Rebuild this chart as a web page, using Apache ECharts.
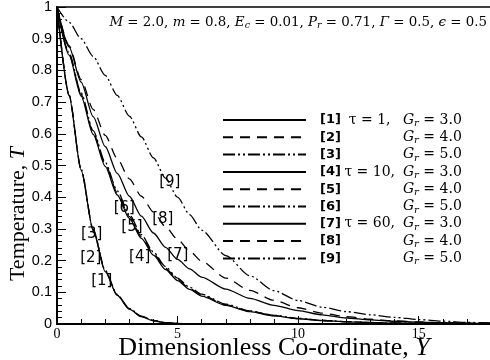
<!DOCTYPE html>
<html><head><meta charset="utf-8">
<script src="https://cdn.jsdelivr.net/npm/echarts@6/dist/echarts.min.js"></script>
<style>html,body{margin:0;padding:0;background:#fff}#c{width:490px;height:360px}</style>
</head><body><div id="c"></div>
<script>
// Y coordinate samples
const xs = [0, 0.5, 1, 1.5, 2, 2.5, 3, 3.5, 4, 4.5, 5, 5.5, 6, 7, 8, 9, 10, 11, 12, 13, 14, 15, 16, 17, 18];
// Temperature T for each curve
const t1 = [1, 0.72, 0.485, 0.295, 0.165, 0.090, 0.047, 0.023, 0.010, 0.004, 0.0015, 0.0005, 0, 0, 0, 0, 0, 0, 0, 0, 0, 0, 0, 0, 0];
const t2 = [1, 0.722, 0.487, 0.297, 0.167, 0.091, 0.048, 0.024, 0.011, 0.004, 0.0015, 0.0005, 0, 0, 0, 0, 0, 0, 0, 0, 0, 0, 0, 0, 0];
const t3 = [1, 0.724, 0.489, 0.299, 0.169, 0.093, 0.049, 0.025, 0.011, 0.004, 0.0015, 0.0005, 0, 0, 0, 0, 0, 0, 0, 0, 0, 0, 0, 0, 0];
const t4 = [1, 0.848, 0.719, 0.598, 0.497, 0.407, 0.333, 0.270, 0.217, 0.172, 0.137, 0.109, 0.088, 0.0585, 0.039, 0.0255, 0.0166, 0.0107, 0.0069, 0.0044, 0.0028, 0.0018, 0.0011, 0.0007, 0.0005];
const t5 = [1, 0.851, 0.724, 0.604, 0.504, 0.414, 0.339, 0.276, 0.222, 0.176, 0.141, 0.112, 0.091, 0.0605, 0.040, 0.0265, 0.0172, 0.0111, 0.0072, 0.0046, 0.0029, 0.0019, 0.0012, 0.0008, 0.0005];
const t6 = [1, 0.855, 0.729, 0.610, 0.510, 0.420, 0.345, 0.282, 0.227, 0.181, 0.145, 0.116, 0.094, 0.0625, 0.0415, 0.0275, 0.0178, 0.0115, 0.0075, 0.0048, 0.003, 0.002, 0.0013, 0.0008, 0.0005];
const t7 = [1, 0.874, 0.763, 0.654, 0.560, 0.475, 0.403, 0.340, 0.287, 0.242, 0.204, 0.174, 0.148, 0.110, 0.081, 0.059, 0.042, 0.029, 0.019, 0.013, 0.0087, 0.0058, 0.0039, 0.0026, 0.0017];
const t8 = [1, 0.878, 0.771, 0.677, 0.595, 0.522, 0.458, 0.403, 0.353, 0.307, 0.267, 0.230, 0.198, 0.145, 0.106, 0.0745, 0.0513, 0.0344, 0.023, 0.015, 0.010, 0.0065, 0.004, 0.0025, 0.0015];
const t9 = [1, 0.952, 0.900, 0.844, 0.784, 0.721, 0.656, 0.590, 0.524, 0.460, 0.400, 0.345, 0.296, 0.216, 0.152, 0.105, 0.074, 0.053, 0.039, 0.029, 0.021, 0.014, 0.009, 0.005, 0.003];
const seriesNames = ['[1]', '[2]', '[3]', '[4]', '[5]', '[6]', '[7]', '[8]', '[9]'];
const tauText = ['τ = 1, ', '', '', 'τ = 10, ', '', '', 'τ = 60, ', '', ''];
const grText = ['3.0', '4.0', '5.0', '3.0', '4.0', '5.0', '3.0', '4.0', '5.0'];
// curve annotation labels (in data coordinates)
const labelX = [1.86, 1.40, 1.44, 3.43, 3.11, 2.79, 5.01, 4.39, 4.68];
const labelT = [0.136, 0.209, 0.283, 0.212, 0.307, 0.365, 0.218, 0.331, 0.449];
const xTicks = [0, 5, 10, 15];
const yTicks = [0, 0.1, 0.2, 0.3, 0.4, 0.5, 0.6, 0.7, 0.8, 0.9, 1];

const curves = [t1, t2, t3, t4, t5, t6, t7, t8, t9];
const dashSolid = 'solid', dashDashed = [10, 7], dashDot = [12, 3, 2, 3, 2, 3];
const styles = [dashSolid, dashDashed, dashDot, dashSolid, dashDashed, dashDot, dashSolid, dashDashed, dashDot];

const chart = echarts.init(document.getElementById('c'), null, {renderer: 'canvas'});
const series = curves.map((c, i) => ({
  name: seriesNames[i],
  type: 'line',
  data: xs.map((x, j) => [x, c[j]]),
  smooth: 0.25,
  smoothMonotone: 'x',
  symbol: 'none',
  lineStyle: {color: '#000', width: 1.3, type: styles[i]},
  itemStyle: {color: '#000'},
  z: 3
}));

const legendRich = {
  b: {fontFamily: 'DejaVu Sans', fontWeight: 'bold', fontSize: 13, color: '#000', padding: [0, 0, 0, 9]},
  t: {fontFamily: 'DejaVu Serif', fontSize: 14, color: '#000', width: 62, align: 'right'},
  g: {fontFamily: 'DejaVu Serif', fontStyle: 'italic', fontSize: 14, color: '#000'},
  s: {fontFamily: 'DejaVu Serif', fontStyle: 'italic', fontSize: 10, color: '#000', padding: [7, 0, 0, 0]},
  e: {fontFamily: 'DejaVu Serif', fontSize: 14, color: '#000'}
};

const yName = {
  type: 'text', x: 18, y: 214, rotation: Math.PI / 2,
  style: {
    text: 'Temperature, {i|T}', fontFamily: 'Liberation Serif', fontSize: 22, fill: '#000',
    align: 'center', verticalAlign: 'middle',
    rich: {i: {fontFamily: 'Liberation Serif', fontStyle: 'italic', fontSize: 22, fill: '#000'}}
  }
};
const xName = {
  type: 'text', x: 274, y: 348,
  style: {
    text: 'Dimensionless Co-ordinate, {i|Y}', fontFamily: 'Liberation Serif', fontSize: 26, fill: '#000',
    align: 'center', verticalAlign: 'middle',
    rich: {i: {fontFamily: 'Liberation Serif', fontStyle: 'italic', fontSize: 26, fill: '#000'}}
  }
};

chart.setOption({
  animation: false,
  backgroundColor: '#fff',
  grid: {left: 57, right: -1, top: 7, bottom: 36, show: true, borderColor: '#000', borderWidth: 1.5,
         containLabel: false, outerBoundsMode: 'none'},
  title: {
    text: '{i|M} = 2.0, {i|m} = 0.8, {i|E}{s|c} = 0.01, {i|P}{s|r} = 0.71, {i|Γ} = 0.5, {i|ϵ} = 0.5',
    right: -2, top: 10,
    textStyle: {
      fontFamily: 'DejaVu Serif', fontSize: 13.4, fontWeight: 'normal', color: '#000',
      rich: {
        i: {fontFamily: 'DejaVu Serif', fontStyle: 'italic', fontSize: 13.4, color: '#000'},
        s: {fontFamily: 'DejaVu Serif', fontStyle: 'italic', fontSize: 9.5, color: '#000', padding: [6, 0, 0, 0]}
      }
    }
  },
  legend: {
    data: seriesNames,
    orient: 'vertical',
    left: 222, top: 113,
    itemWidth: 83, itemHeight: 17, itemGap: 1.8,
    padding: 0,
    itemStyle: {opacity: 0},
    formatter: name => {
      const i = seriesNames.indexOf(name);
      return '{b|' + name + '}{t|' + tauText[i] + '}{g|G}{s|r}{e| = ' + grText[i] + '}';
    },
    textStyle: {rich: legendRich, color: '#000'}
  },
  xAxis: {
    type: 'value', min: 0, max: 18, interval: 5,
    axisLine: {lineStyle: {color: '#000', width: 2}},
    axisTick: {inside: true, length: 8, lineStyle: {color: '#000', width: 1}},
    minorTick: {show: true, splitNumber: 5, length: 5, lineStyle: {color: '#000', width: 1}},
    splitLine: {show: false},
    axisLabel: {margin: 3, fontFamily: 'Liberation Serif', fontSize: 14, color: '#000', showMaxLabel: false,
      formatter: v => xTicks.includes(v) ? String(v) : ''}
  },
  yAxis: {
    type: 'value', min: 0, max: 1, interval: 0.1,
    axisLine: {lineStyle: {color: '#000', width: 2}},
    axisTick: {inside: true, length: 9, lineStyle: {color: '#000', width: 1}},
    minorTick: {show: true, splitNumber: 5, length: 5, lineStyle: {color: '#000', width: 1}},
    splitLine: {show: false},
    axisLabel: {margin: 5, fontFamily: 'Liberation Sans', fontSize: 14.5, color: '#000',
      formatter: v => {
        const t = yTicks.find(y => Math.abs(y - v) < 1e-6);
        if (t === undefined) return '';
        return (t === 0 || t === 1) ? String(t) : t.toFixed(1);
      }}
  },
  graphic: [yName, xName],
  series: series
});

// curve annotations placed through the axes' scales
const annot = labelX.map((x, i) => {
  const p = chart.convertToPixel({gridIndex: 0}, [x, labelT[i]]);
  return {
    type: 'text', x: p[0], y: p[1], z: 10,
    style: {text: seriesNames[i], fontFamily: 'DejaVu Sans', fontSize: 15, fill: '#000',
            align: 'center', verticalAlign: 'middle'}
  };
});
chart.setOption({graphic: [yName, xName].concat(annot)}, {replaceMerge: ['graphic']});
</script>
</body></html>
